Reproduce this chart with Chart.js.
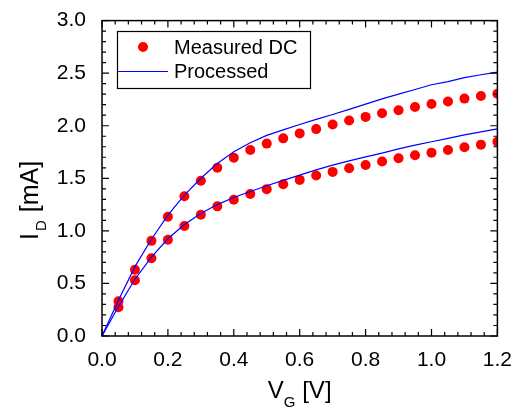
<!DOCTYPE html>
<html>
<head>
<meta charset="utf-8">
<script src="https://cdn.jsdelivr.net/npm/chart.js@4.4.0/dist/chart.umd.min.js"></script>
<style>
  html, body { margin: 0; padding: 0; background: #fff; }
  #wrap { width: 516px; height: 411px; position: relative; }
</style>
</head>
<body>
<div id="wrap"><canvas id="c" width="516" height="411"></canvas></div>
<script>
// gate voltage steps (V)
const vg = [0.05, 0.10, 0.15, 0.20, 0.25, 0.30, 0.35, 0.40, 0.45, 0.50, 0.55, 0.60,
            0.65, 0.70, 0.75, 0.80, 0.85, 0.90, 0.95, 1.00, 1.05, 1.10, 1.15, 1.20];

// measured DC drain current (mA)
const measuredHigh = [0.33, 0.63, 0.905, 1.135, 1.33, 1.476, 1.60, 1.696, 1.77, 1.83, 1.88, 1.927,
                      1.968, 2.012, 2.05, 2.084, 2.119, 2.148, 2.179, 2.207, 2.23, 2.258, 2.283, 2.305];
const measuredLow = [0.274, 0.53, 0.74, 0.915, 1.047, 1.154, 1.233, 1.296, 1.35, 1.397, 1.444, 1.485,
                     1.526, 1.561, 1.596, 1.627, 1.659, 1.69, 1.719, 1.744, 1.769, 1.795, 1.82, 1.848];

// processed curves (start at origin)
const procX = [0.0].concat(vg);
const processedHigh = [0, 0.34, 0.66, 0.92, 1.15, 1.34, 1.50, 1.64, 1.753, 1.838, 1.908, 1.961, 2.012,
                       2.06, 2.107, 2.155, 2.205, 2.255, 2.30, 2.345, 2.39, 2.42, 2.457, 2.485, 2.51];
const processedLow = [0, 0.28, 0.54, 0.75, 0.925, 1.06, 1.165, 1.25, 1.318, 1.375, 1.429, 1.48, 1.53,
                      1.58, 1.625, 1.665, 1.703, 1.74, 1.78, 1.815, 1.848, 1.88, 1.913, 1.942, 1.97];

const xTicks = [0.0, 0.2, 0.4, 0.6, 0.8, 1.0, 1.2];
const yTicks = [0.0, 0.5, 1.0, 1.5, 2.0, 2.5, 3.0];

const FONT = 'Arial, "Liberation Sans", sans-serif';

const toPts = (xs, ys) => xs.map((x, i) => ({ x: x, y: ys[i] }));

// frame, inward ticks, axis titles and legend
const decor = {
  id: 'decor',
  afterDraw(chart) {
    const ctx = chart.ctx;
    const a = chart.chartArea;
    const xs = chart.scales.x, ys = chart.scales.y;
    ctx.save();
    ctx.strokeStyle = '#000';
    ctx.lineWidth = 1.5;
    ctx.strokeRect(a.left, a.top, a.right - a.left, a.bottom - a.top);

    ctx.lineWidth = 1.2;
    ctx.beginPath();
    for (let i = 0; i <= 30; i++) {
      const v = i * 0.04;
      const px = xs.getPixelForValue(v);
      const len = (i % 5 === 0) ? 7 : 4;
      ctx.moveTo(px, a.bottom); ctx.lineTo(px, a.bottom - len);
      ctx.moveTo(px, a.top); ctx.lineTo(px, a.top + len);
    }
    for (let i = 0; i <= 30; i++) {
      const v = i * 0.1;
      const py = ys.getPixelForValue(v);
      const len = (i % 5 === 0) ? 7 : 4;
      ctx.moveTo(a.left, py); ctx.lineTo(a.left + len, py);
      ctx.moveTo(a.right, py); ctx.lineTo(a.right - len, py);
    }
    ctx.stroke();

    // x title: V_G [V]
    ctx.fillStyle = '#000';
    ctx.textBaseline = 'alphabetic';
    ctx.textAlign = 'left';
    const sub = '15px ' + FONT;
    let big = '24px ' + FONT;
    ctx.font = big;
    const wV = ctx.measureText('V').width;
    const wRest = ctx.measureText(' [V]').width;
    ctx.font = sub;
    const wG = ctx.measureText('G').width;
    const cx = (a.left + a.right) / 2;
    let x0 = cx - (wV + wG + wRest) / 2;
    ctx.font = big; ctx.fillText('V', x0, 398);
    ctx.font = sub; ctx.fillText('G', x0 + wV, 407);
    ctx.font = big; ctx.fillText(' [V]', x0 + wV + wG, 398);

    // y title: I_D [mA]
    big = '25px ' + FONT;
    ctx.save();
    ctx.translate(38, 240);
    ctx.rotate(-Math.PI / 2);
    ctx.font = big;
    const wI = ctx.measureText('I').width;
    ctx.fillText('I', 0, 0);
    ctx.font = sub;
    const wD = ctx.measureText('D').width;
    ctx.fillText('D', wI + 2, 8);
    ctx.font = big;
    ctx.fillText(' [mA]', wI + wD + 3, 0);
    ctx.restore();

    // legend
    ctx.lineWidth = 1.2;
    ctx.strokeRect(117.5, 31.5, 193, 57);
    ctx.fillStyle = '#ff0000';
    ctx.beginPath();
    ctx.arc(143, 47, 5, 0, Math.PI * 2);
    ctx.fill();
    ctx.strokeStyle = '#0000ff';
    ctx.lineWidth = 1.2;
    ctx.beginPath();
    ctx.moveTo(118, 71.5); ctx.lineTo(168, 71.5);
    ctx.stroke();
    ctx.fillStyle = '#000';
    ctx.font = '20px ' + FONT;
    ctx.textBaseline = 'middle';
    ctx.fillText('Measured DC', 174, 48);
    ctx.fillText('Processed', 174, 72);
    ctx.restore();
  }
};

new Chart(document.getElementById('c'), {
  type: 'scatter',
  data: {
    datasets: [
      { label: 'Processed', data: toPts(procX, processedHigh), showLine: true, borderColor: '#0000ff',
        borderWidth: 1.2, pointRadius: 0, tension: 0 },
      { label: 'Processed', data: toPts(procX, processedLow), showLine: true, borderColor: '#0000ff',
        borderWidth: 1.2, pointRadius: 0, tension: 0 },
      { label: 'Measured DC', data: toPts(vg, measuredHigh), backgroundColor: '#ff0000',
        borderWidth: 0, pointRadius: 5 },
      { label: 'Measured DC', data: toPts(vg, measuredLow), backgroundColor: '#ff0000',
        borderWidth: 0, pointRadius: 5 }
    ]
  },
  options: {
    responsive: false,
    animation: false,
    layout: { padding: { top: 19, right: 18, left: 0, bottom: 0 } },
    plugins: { legend: { display: false }, tooltip: { enabled: false } },
    scales: {
      x: {
        type: 'linear', min: 0, max: 1.2,
        afterBuildTicks: s => { s.ticks = xTicks.map(v => ({ value: v })); },
        ticks: { callback: v => v.toFixed(1), color: '#000', font: { size: 21, family: FONT }, padding: 4, maxRotation: 0 },
        grid: { display: false }, border: { display: false },
        afterFit: s => { s.height = 75; }
      },
      y: {
        type: 'linear', min: 0, max: 3,
        afterBuildTicks: s => { s.ticks = yTicks.map(v => ({ value: v })); },
        ticks: { callback: v => v.toFixed(1), color: '#000', font: { size: 21, family: FONT }, padding: 8 },
        grid: { display: false }, border: { display: false },
        afterFit: s => { s.width = 102; }
      }
    }
  },
  plugins: [decor]
});
</script>
</body>
</html>
